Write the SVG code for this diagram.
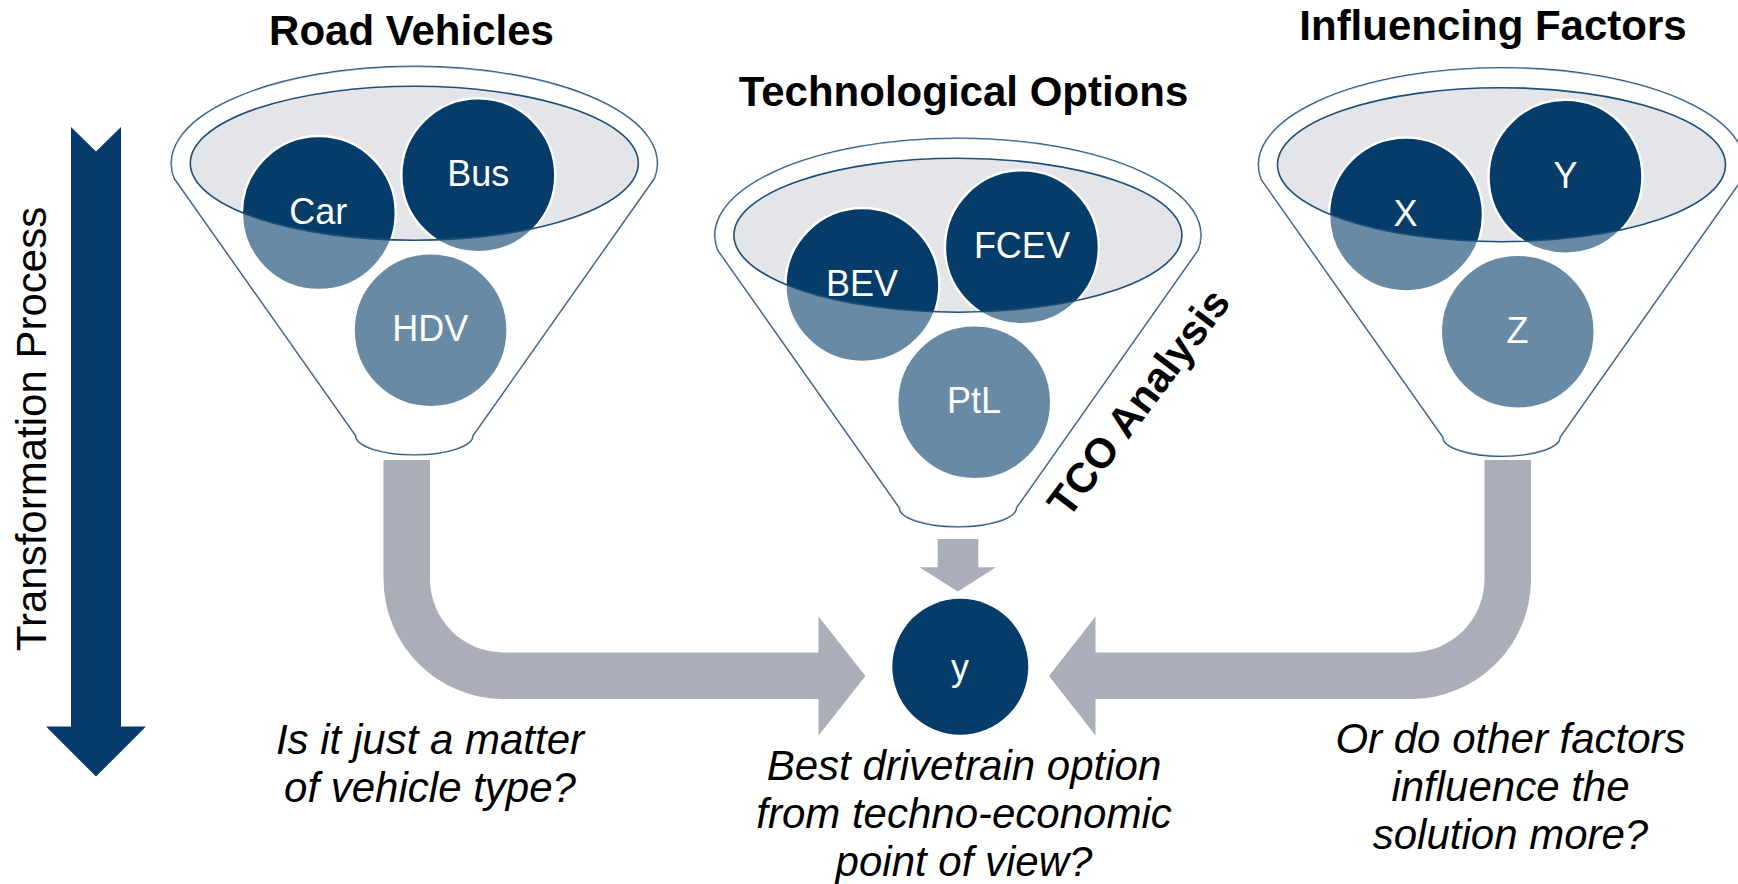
<svg xmlns="http://www.w3.org/2000/svg" width="1738" height="884" viewBox="0 0 1738 884">
  <style>
    .title { font-family: "Liberation Sans", Arial, sans-serif; font-weight: bold; font-size: 42px; fill: #000; text-anchor: middle; }
    .lbl { font-family: "Liberation Sans", Arial, sans-serif; font-size: 36px; fill: #fff; text-anchor: middle; }
    .q { font-family: "Liberation Sans", Arial, sans-serif; font-style: italic; font-size: 42px; fill: #000; text-anchor: middle; }
    .side { font-family: "Liberation Sans", Arial, sans-serif; font-size: 42px; fill: #000; text-anchor: middle; }
    .outer { fill: #fff; stroke: #1f4e79; stroke-width: 1.6; }
    .innerfill { fill: #e4e5e9; }
    .innerline { fill: none; stroke: #1f4e79; stroke-width: 1.6; }
    .ball { fill: #063c6a; stroke: #fff; stroke-width: 2.5; }
    .veil { fill: #fff; fill-opacity: 0.4; fill-rule: evenodd; }
    .flow { fill: #aaaeb8; }
    .navy { fill: #063c6a; }
  </style>
  <defs>
    <path id="funnelOuter" d="M -240.1 15 A 243 97 0 1 1 240.1 15 L 58.5 272.5 A 58.5 19 0 0 1 -58.5 272.5 Z"/>
    <ellipse id="funnelInner" cx="0" cy="0" rx="224" ry="77"/>
    <path id="funnelVeil" d="M -240.1 15 A 243 97 0 1 1 240.1 15 L 58.5 272.5 A 58.5 19 0 0 1 -58.5 272.5 Z M -224 0 A 224 77 0 1 0 224 0 A 224 77 0 1 0 -224 0 Z"/>
  </defs>

  <!-- Funnel 1: Road Vehicles -->
  <g id="funnel-road-vehicles">
    <text class="title" x="411.5" y="45">Road Vehicles</text>
    <g transform="translate(414.3,163.3)">
      <use href="#funnelOuter" class="outer"/>
      <use href="#funnelInner" class="innerfill"/>
      <circle class="ball" cx="-95.5" cy="49.8" r="77"/>
      <circle class="ball" cx="64" cy="12" r="77"/>
      <circle class="ball" cx="16.3" cy="167" r="77"/>
      <use href="#funnelVeil" class="veil"/>
      <use href="#funnelInner" class="innerline"/>
      <text class="lbl" x="-96" y="61">Car</text>
      <text class="lbl" x="64" y="23">Bus</text>
      <text class="lbl" x="16" y="178">HDV</text>
    </g>
  </g>

  <!-- Funnel 2: Technological Options -->
  <g id="funnel-technological-options">
    <text class="title" x="963.5" y="106">Technological Options</text>
    <g transform="translate(957.9,235.2)">
      <use href="#funnelOuter" class="outer"/>
      <use href="#funnelInner" class="innerfill"/>
      <circle class="ball" cx="-95.5" cy="49.8" r="77"/>
      <circle class="ball" cx="64" cy="12" r="77"/>
      <circle class="ball" cx="16.3" cy="167" r="77"/>
      <use href="#funnelVeil" class="veil"/>
      <use href="#funnelInner" class="innerline"/>
      <text class="lbl" x="-96" y="61">BEV</text>
      <text class="lbl" x="64" y="23">FCEV</text>
      <text class="lbl" x="16" y="178">PtL</text>
    </g>
    <text class="title" transform="translate(1150,411) rotate(-53)" x="0" y="0">TCO Analysis</text>
  </g>

  <!-- Funnel 3: Influencing Factors -->
  <g id="funnel-influencing-factors">
    <text class="title" x="1493" y="39.5">Influencing Factors</text>
    <g transform="translate(1501.5,164.7)">
      <use href="#funnelOuter" class="outer"/>
      <use href="#funnelInner" class="innerfill"/>
      <circle class="ball" cx="-95.5" cy="49.8" r="77"/>
      <circle class="ball" cx="64" cy="12" r="77"/>
      <circle class="ball" cx="16.3" cy="167" r="77"/>
      <use href="#funnelVeil" class="veil"/>
      <use href="#funnelInner" class="innerline"/>
      <text class="lbl" x="-96" y="61">X</text>
      <text class="lbl" x="64" y="23">Y</text>
      <text class="lbl" x="16" y="178">Z</text>
    </g>
  </g>

  <!-- Transformation process arrow -->
  <g id="transformation-process">
    <path class="navy" d="M 71 127 L 96 151.5 L 121 127 L 121 726.5 L 146 726.5 L 96 776.5 L 46 726.5 L 71 726.5 Z"/>
    <text class="side" transform="translate(46,429) rotate(-90)" x="0" y="0">Transformation Process</text>
  </g>

  <!-- Connectors -->
  <g id="connectors">
    <path class="flow" d="M 383.5 460 L 430 460 L 430 579 A 73.5 73.5 0 0 0 503.5 652.5 L 818.5 652.5 L 818.5 616.5 L 865.5 676 L 818.5 735.5 L 818.5 699 L 503.5 699 A 120 120 0 0 1 383.5 579 Z"/>
    <path class="flow" d="M 1484.5 460 L 1531 460 L 1531 579 A 120 120 0 0 1 1411 699 L 1095.5 699 L 1095.5 735.5 L 1049 676 L 1095.5 616.5 L 1095.5 652.5 L 1411 652.5 A 73.5 73.5 0 0 0 1484.5 579 Z"/>
    <path class="flow" d="M 937.7 539 L 978.3 539 L 978.3 567.3 L 996 567.3 L 957.8 591.5 L 919.5 567.3 L 937.7 567.3 Z"/>
  </g>

  <!-- Result node -->
  <g id="node-y">
    <circle class="navy" cx="960.3" cy="666.7" r="68"/>
    <text class="lbl" x="960" y="680">y</text>
  </g>

  <!-- Questions -->
  <g id="question-vehicle-type">
    <text class="q" x="430" y="753.5">Is it just a matter</text>
    <text class="q" x="430" y="801.5">of vehicle type?</text>
  </g>
  <g id="question-techno-economic">
    <text class="q" x="964" y="780">Best drivetrain option</text>
    <text class="q" x="964" y="828">from techno-economic</text>
    <text class="q" x="964" y="875.5">point of view?</text>
  </g>
  <g id="question-other-factors">
    <text class="q" x="1510.5" y="752.7">Or do other factors</text>
    <text class="q" x="1510.5" y="801">influence the</text>
    <text class="q" x="1510.5" y="849.3">solution more?</text>
  </g>
</svg>
